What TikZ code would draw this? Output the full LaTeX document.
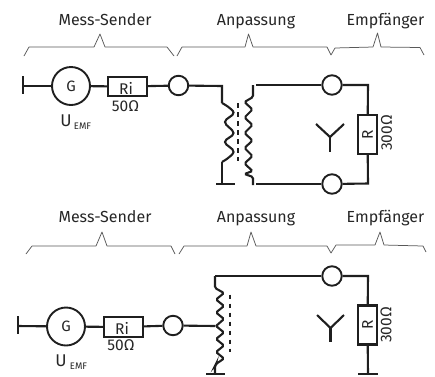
\documentclass[tikz,border=0pt]{standalone}
\usepackage{fontspec}
\setmainfont{Fira Sans}
\tikzset{
  wire/.style={line width=2.1pt,black!88},
  brace/.style={line width=0.75pt,black!65,line join=round},
  headline/.style={font=\fontsize{16}{16}\selectfont,text=black!85,inner sep=0pt,anchor=base},
  gen/.style={circle,draw,line width=1.9pt,black!88,text=black!85,minimum size=38pt,inner sep=0pt,font=\fontsize{15}{15}\selectfont},
  port/.style={circle,draw,line width=1.9pt,black!88,minimum size=19.5pt,inner sep=0pt},
  resh/.style={rectangle,draw,line width=2.1pt,black!88,minimum width=39pt,minimum height=19.5pt,inner sep=0pt},
  resv/.style={rectangle,draw,line width=2.1pt,black!88,minimum width=19.5pt,minimum height=39pt,inner sep=0pt},
  val/.style={font=\fontsize{15.5}{15.5}\selectfont,text=black!85,inner sep=0pt},
  core/.style={line width=2.4pt,black!88,dash pattern=on 4.8pt off 4.2pt},
  uemf/.style={font=\fontsize{17}{17}\selectfont,text=black!85,inner sep=0pt},
  sub/.style={font=\fontsize{9.5}{9.5}\selectfont,text=black!85,inner sep=0pt}
}
\begin{document}
\begin{tikzpicture}[x=1pt,y=-1pt]
\useasboundingbox (0,0) rectangle (435,376);
% ---------- upper circuit ----------
\node[headline] (t1) at (105,25) {Mess-Sender};
\node[headline] (t2) at (256,25) {Anpassung};
\node[headline] (t3) at (385.5,25) {Empfänger};
\draw[brace] (24,56)--(29,47)--(94,47)--(100,34)--(105,47)--(167,47)--(174,56);
\draw[brace] (177,56)--(182,47)--(245,47)--(248.5,34)--(253,47)--(327,47)--(331,55)--(335,48)--(373,47)--(377.5,33)--(381,47)--(420,47.5)--(424,55);
\coordinate (a0a) at (23,76); \coordinate (a0b) at (23,94); \coordinate (a0) at (23,86);
\node[gen] (aG) at (71,86) {G};
\node[resh] (aRi) at (127.5,86.5) {};
\node[val] at (126,88) {Ri};
\node[val] (a50) at (125.5,106) {50Ω};
\node[port] (aP) at (178.5,85.5) {};
\node[uemf] (aU) at (66,121) {U};
\node[sub] (aE) at (82.5,126) {EMF};
\draw[wire] (a0a)--(a0b);
\draw[wire] (a0)--(aG);
\draw[wire] (aG)--(aRi);
\draw[wire] (aRi)--(aP);
\coordinate (aL1) at (222,86);
\coordinate (aL2) at (222,103);
\coordinate (aL3) at (222,162);
\coordinate (aLg) at (222,184);
\coordinate (aGa) at (216,184); \coordinate (aGb) at (235,184);
\draw[wire] (aP)--(aL1)--(aL2);
\draw[wire] plot[smooth,tension=0.7] coordinates {(aL2) (233.5,112.5) (225,122) (233.5,133) (225,142) (233.5,152) (aL3)};
\draw[wire] (aL3)--(aLg);
\draw[wire] (aGa)--(aGb);
\draw[core] (238,103)--(238,161);
\coordinate (aS1) at (253,85);
\coordinate (aS2) at (253,97);
\coordinate (aS3) at (253,177);
\coordinate (aS4) at (253,185);
\draw[wire,rounded corners=1.5pt] (aS1)--(aS2)--(244.5,102)--(252.5,109.5)--(244.5,117.5)--(252.5,125)--(244.5,133)--(252.5,140.5)--(244.5,148)--(252.5,156)--(244.5,163.5)--(252.5,171)--(244.5,174)--(aS3)--(aS4);
\node[port] (aP1) at (332,85) {};
\node[port] (aP2) at (332,184) {};
\node[resv] (aR) at (367.5,134.5) {};
\node[val,rotate=90] at (367.5,134.5) {R};
\node[val,rotate=90] (a300) at (386.5,133) {300Ω};
\coordinate (aT1) at (256,85); \coordinate (aT2) at (256,184);
\coordinate (aC1) at (368,85); \coordinate (aC2) at (368,183.5);
\draw[wire] (aT1)--(aP1);
\draw[wire] (aP1)--(aC1)--(aR);
\draw[wire] (aR)--(aC2)--(aP2);
\draw[wire] (aP2)--(aT2);
\coordinate (aAl) at (316,124); \coordinate (aAc) at (330,137);
\coordinate (aAr) at (344,124); \coordinate (aAb) at (330,152);
\draw[wire] (aAl)--(aAc)--(aAr);
\draw[wire] (aAc)--(aAb);
% ---------- lower circuit ----------
\node[headline] (b1) at (105,222.5) {Mess-Sender};
\node[headline] (b2) at (256,222.5) {Anpassung};
\node[headline] (b3) at (385.5,222.5) {Empfänger};
\draw[brace] (26,254)--(32,246)--(96,246)--(102,232)--(107,246)--(171,246)--(175,254);
\draw[brace] (179,254)--(184,246)--(247,246)--(251,232)--(256,246)--(327,246)--(331,253)--(336,245)--(375,245)--(380,232)--(384,245)--(423,246)--(426,252);
\coordinate (b0a) at (18,316); \coordinate (b0b) at (18,334); \coordinate (b0) at (18,326);
\node[gen] (bG) at (66,326.5) {G};
\node[resh] (bRi) at (123.5,327) {};
\node[val] at (122,328.5) {Ri};
\node[val] (b50) at (121,345.5) {50Ω};
\node[port] (bP) at (173,325.5) {};
\node[uemf] (bU) at (61,360.5) {U};
\node[sub] (bE) at (78.5,366) {EMF};
\draw[wire] (b0a)--(b0b);
\draw[wire] (b0)--(bG);
\draw[wire] (bG)--(bRi);
\draw[wire] (bRi)--(bP);
\coordinate (bL0) at (215,276);
\coordinate (bL1) at (215,288);
\coordinate (bL2) at (215,366);
\coordinate (bL3) at (215,374);
\coordinate (bM) at (215.5,326);
\coordinate (bGa) at (206,374); \coordinate (bGb) at (225,374);
\draw[wire] (bP)--(bM);
\draw[wire,rounded corners=1.5pt] (bL0)--(bL1)--(224,293)--(216,299.5)--(224,306)--(216,312.5)--(224,319)--(216,326)--(224,332.5)--(216,339)--(224,345.5)--(216,352)--(224,358.5)--(216,364)--(bL2)--(bL3);
\draw[wire] (bGa)--(bGb);
\draw[core] (230,294.5)--(230,352);
\node[port] (bP1) at (332,276) {};
\node[resv] (bR) at (367.5,325) {};
\node[val,rotate=90] at (367.5,325) {R};
\node[val,rotate=90] (b300) at (386,325) {300Ω};
\coordinate (bC1) at (368,276); \coordinate (bC2) at (368,374);
\coordinate (bHa) at (358,374); \coordinate (bHb) at (377.5,374);
\draw[wire] (bL0)--(bP1);
\draw[wire] (bP1)--(bC1)--(bR);
\draw[wire] (bR)--(bC2);
\draw[wire] (bHa)--(bHb);
\coordinate (bAl) at (317,315); \coordinate (bAc) at (330.5,328);
\coordinate (bAr) at (344,315); \coordinate (bAb) at (330.5,342);
\draw[wire] (bAl)--(bAc)--(bAr);
\draw[wire] (bAc)--(bAb);
\end{tikzpicture}
\end{document}
